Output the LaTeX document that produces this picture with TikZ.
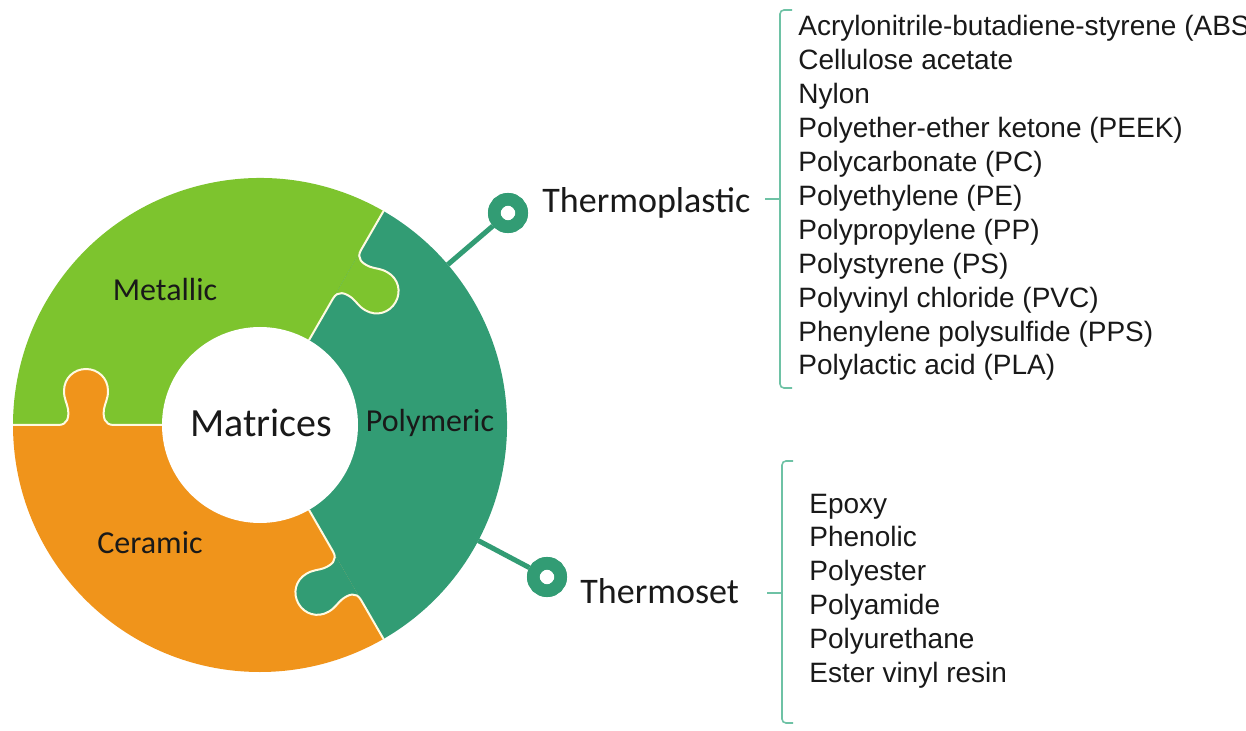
\documentclass[tikz,border=0pt]{standalone}
\usepackage{fontspec}
\setmainfont{Liberation Sans}
\newfontfamily\calib{Carlito}
\definecolor{metal}{RGB}{125,196,46}
\definecolor{ceram}{RGB}{240,148,27}
\definecolor{poly}{RGB}{50,156,116}
\definecolor{seamc}{RGB}{255,250,225}
\definecolor{bracec}{RGB}{110,194,165}
\tikzset{
 seam/.style={draw=seamc, line width=1pt},
 piece/.style={font=\calib\fontsize{16}{19}\selectfont, text=black!90, anchor=base, inner sep=0},
 cat/.style={font=\calib\fontsize{18}{22}\selectfont, text=black!90, anchor=base west, inner sep=0},
 item/.style={font=\fontsize{14}{17}\selectfont, text=black!90, anchor=base west, inner sep=0},
 brace/.style={draw=bracec, line width=0.8pt, rounded corners=2pt},
 pin/.style={circle, draw=poly, line width=6.25pt, minimum size=13.75pt, inner sep=0pt},
 stem/.style={draw=poly, line width=2.5pt}
}
\def\tabpath{(146,0) .. controls (156,0) and (157,-8) .. (156,-16) .. controls (155,-22) and (152,-26) .. (152,-34) .. controls (152,-47) and (162,-56) .. (174,-56) .. controls (186,-56) and (196,-47) .. (196,-34) .. controls (196,-26) and (193,-22) .. (192,-16) .. controls (191,-8) and (192,0) .. (202,0)}
\begin{document}
\begin{tikzpicture}[x=0.5pt,y=0.5pt]
\useasboundingbox (0,0) rectangle (1246,-731);
\clip (0,0) rectangle (1246,-731);
\fill[white] (0,0) rectangle (1246,-731);
% ring
\begin{scope}[shift={(260,-425)}]
 \fill[metal] (0,0) -- (60:247) arc[start angle=60,end angle=180,radius=247] -- cycle;
 \fill[ceram] (0,0) -- (180:247) arc[start angle=180,end angle=300,radius=247] -- cycle;
 \fill[poly] (0,0) -- (-60:247) arc[start angle=-60,end angle=60,radius=247] -- cycle;
 \begin{scope}[rotate=60]
  \fill[metal] \tabpath -- cycle;
  \draw[seam] (98,0) -- \tabpath -- (247,0);
 \end{scope}
 \begin{scope}[rotate=180]
  \fill[ceram] \tabpath -- cycle;
  \draw[seam] (98,0) -- \tabpath -- (247,0);
 \end{scope}
 \begin{scope}[rotate=-60]
  \fill[poly] \tabpath -- cycle;
  \draw[seam] (98,0) -- \tabpath -- (247,0);
 \end{scope}
 \fill[white] (0,0) circle[radius=98];
 \coordinate (tpbase) at (40.5:247);
 \coordinate (tsbase) at (-27.9:247);
\end{scope}
% labels on ring
\node[font=\calib\fontsize{20}{24}\selectfont, text=black!90, anchor=base, inner sep=0] (matrices) at (261,-437) {Matrices};
\node[piece] (metallic) at (165,-301) {Metallic};
\node[piece] (ceramic) at (150,-553) {Ceramic};
\node[piece] (polymeric) at (430,-432) {Polymeric};
% pins
\node[pin] (tppin) at (508,-213) {};
\node[pin] (tspin) at (547,-577) {};
\draw[stem] (tpbase) -- (tppin);
\draw[stem] (tsbase) -- (tspin);
\node[pin] at (tppin) {};
\node[pin] at (tspin) {};
\node[cat] (thermoplastic) at (542,-213) {Thermoplastic};
\node[cat] (thermoset) at (580,-603) {Thermoset};
% brackets
\draw[brace] (792,-10) -- (780,-10) -- (780,-388) -- (792,-388);
\coordinate (tpb) at (780,-199);
\coordinate (tpt) at (765,-199);
\draw[brace] (tpt) -- (tpb);
\draw[brace] (793,-461) -- (782,-461) -- (782,-723) -- (793,-723);
\coordinate (tsb) at (782,-593);
\coordinate (tst) at (767,-593);
\draw[brace] (tst) -- (tsb);
% lists
\foreach \t [count=\i from 0] in {{Acrylonitrile-butadiene-styrene (ABS)},{Cellulose acetate},{Nylon},{Polyether-ether ketone (PEEK)},{Polycarbonate (PC)},{Polyethylene (PE)},{Polypropylene (PP)},{Polystyrene (PS)},{Polyvinyl chloride (PVC)},{Phenylene polysulfide (PPS)},{Polylactic acid (PLA)}}
 \node[item] (tp\i) at (798,-36-33.9*\i) {\t};
\foreach \t [count=\i from 0] in {Epoxy,Phenolic,Polyester,Polyamide,Polyurethane,{Ester vinyl resin}}
 \node[item] (ts\i) at (809,-513-33.8*\i) {\t};
\end{tikzpicture}
\end{document}
